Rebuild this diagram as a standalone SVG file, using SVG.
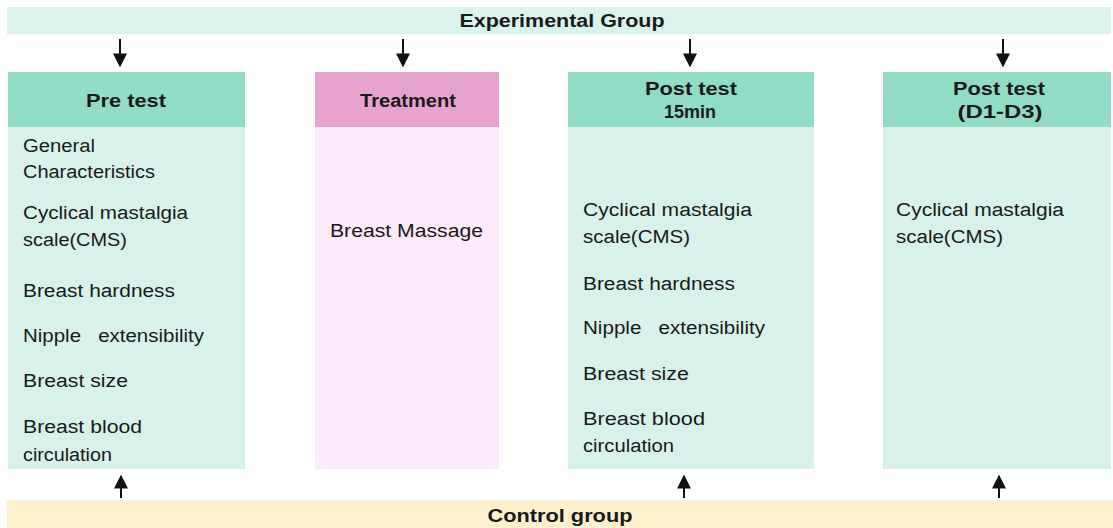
<svg xmlns="http://www.w3.org/2000/svg" width="1113" height="528" viewBox="0 0 1113 528">
<defs>
<style>
.bar-e{fill:#daf3ed}
.bar-c{fill:#fdf0cd}
.hdr{fill:#90dcc6}
.body{fill:#d9f1eb}
.thdr{fill:#e6a3cf}
.tbody{fill:#fce9f9}
.h{font-family:"Liberation Sans",Arial,sans-serif;font-size:18px;font-weight:bold;fill:#1a1a1a;text-anchor:middle}
.t{font-family:"Liberation Sans",Arial,sans-serif;font-size:18px;fill:#1a1a1a;white-space:pre}
.arr{stroke:#111;stroke-width:2;fill:none}
</style>
<marker id="ah" viewBox="0 0 10 10" refX="9" refY="5" markerWidth="7" markerHeight="7" markerUnits="strokeWidth" orient="auto">
<path d="M0,0 L10,5 L0,10 z" fill="#111"/>
</marker>
</defs>
<rect width="1113" height="528" fill="#ffffff"/>

<g id="experimental">
<rect class="bar-e" x="7" y="7" width="1104" height="27"/>
<text class="h" x="562" y="27" textLength="205" lengthAdjust="spacingAndGlyphs">Experimental Group</text>
</g>

<g id="control">
<rect class="bar-c" x="7" y="500" width="1106" height="28"/>
<text class="h" x="560" y="522" textLength="145" lengthAdjust="spacingAndGlyphs">Control group</text>
</g>

<g id="pretest">
<rect class="hdr" x="8" y="72" width="237" height="55"/>
<rect class="body" x="8" y="127" width="237" height="342"/>
<text class="h" x="126" y="107" textLength="80" lengthAdjust="spacingAndGlyphs">Pre test</text>
<text class="t" x="23" y="152" textLength="72" lengthAdjust="spacingAndGlyphs">General</text>
<text class="t" x="23" y="178" textLength="132" lengthAdjust="spacingAndGlyphs">Characteristics</text>
<text class="t" x="23" y="219" textLength="165" lengthAdjust="spacingAndGlyphs">Cyclical mastalgia</text>
<text class="t" x="23" y="246" textLength="104" lengthAdjust="spacingAndGlyphs">scale(CMS)</text>
<text class="t" x="23" y="297" textLength="152" lengthAdjust="spacingAndGlyphs">Breast hardness</text>
<text class="t" x="23" y="342" textLength="181" lengthAdjust="spacingAndGlyphs">Nipple   extensibility</text>
<text class="t" x="23" y="387" textLength="105" lengthAdjust="spacingAndGlyphs">Breast size</text>
<text class="t" x="23" y="433" textLength="119" lengthAdjust="spacingAndGlyphs">Breast blood</text>
<text class="t" x="23" y="461" textLength="89" lengthAdjust="spacingAndGlyphs">circulation</text>
</g>

<g id="treatment">
<rect class="thdr" x="315" y="72" width="184" height="55"/>
<rect class="tbody" x="315" y="127" width="184" height="342"/>
<text class="h" x="408" y="107" textLength="96" lengthAdjust="spacingAndGlyphs">Treatment</text>
<text class="t" x="330" y="237" textLength="153" lengthAdjust="spacingAndGlyphs">Breast Massage</text>
</g>

<g id="posttest15">
<rect class="hdr" x="568" y="72" width="246" height="55"/>
<rect class="body" x="568" y="127" width="246" height="342"/>
<text class="h" x="691" y="95" textLength="92" lengthAdjust="spacingAndGlyphs">Post test</text>
<text class="h" x="690" y="118" textLength="52" lengthAdjust="spacingAndGlyphs">15min</text>
<text class="t" x="583" y="216" textLength="169" lengthAdjust="spacingAndGlyphs">Cyclical mastalgia</text>
<text class="t" x="583" y="243" textLength="107" lengthAdjust="spacingAndGlyphs">scale(CMS)</text>
<text class="t" x="583" y="290" textLength="152" lengthAdjust="spacingAndGlyphs">Breast hardness</text>
<text class="t" x="583" y="334" textLength="182" lengthAdjust="spacingAndGlyphs">Nipple   extensibility</text>
<text class="t" x="583" y="380" textLength="106" lengthAdjust="spacingAndGlyphs">Breast size</text>
<text class="t" x="583" y="425" textLength="122" lengthAdjust="spacingAndGlyphs">Breast blood</text>
<text class="t" x="583" y="452" textLength="91" lengthAdjust="spacingAndGlyphs">circulation</text>
</g>

<g id="posttestD">
<rect class="hdr" x="883" y="72" width="228" height="55"/>
<rect class="body" x="883" y="127" width="228" height="342"/>
<text class="h" x="999" y="95" textLength="92" lengthAdjust="spacingAndGlyphs">Post test</text>
<text class="h" x="1000" y="118" textLength="85" lengthAdjust="spacingAndGlyphs">(D1-D3)</text>
<text class="t" x="896" y="216" textLength="168" lengthAdjust="spacingAndGlyphs">Cyclical mastalgia</text>
<text class="t" x="896" y="243" textLength="107" lengthAdjust="spacingAndGlyphs">scale(CMS)</text>
</g>

<g id="connectors">
<line class="arr" x1="120" y1="39" x2="120" y2="66" marker-end="url(#ah)"/>
<line class="arr" x1="403" y1="39" x2="403" y2="66" marker-end="url(#ah)"/>
<line class="arr" x1="690" y1="39" x2="690" y2="66" marker-end="url(#ah)"/>
<line class="arr" x1="1003" y1="39" x2="1003" y2="66" marker-end="url(#ah)"/>
<line class="arr" x1="121" y1="498" x2="121" y2="476" marker-end="url(#ah)"/>
<line class="arr" x1="684" y1="498" x2="684" y2="476" marker-end="url(#ah)"/>
<line class="arr" x1="999" y1="498" x2="999" y2="476" marker-end="url(#ah)"/>
</g>
</svg>
